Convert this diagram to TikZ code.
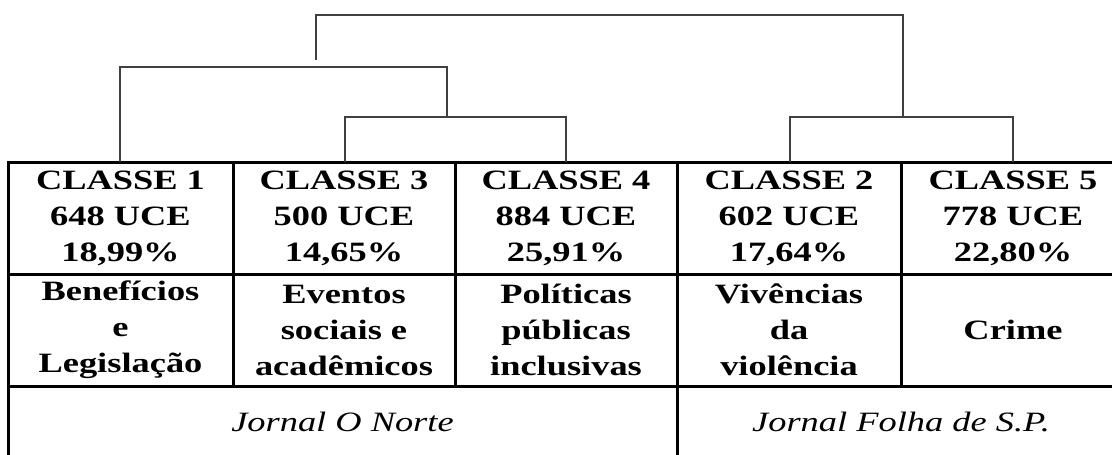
\documentclass[tikz,border=0pt]{standalone}
\usepackage{fontspec}
\setmainfont[FakeStretch=1.3]{Liberation Serif}
\usepackage{tikz}
\tikzset{cls/.style={align=center,font=\bfseries\fontsize{28}{36}\selectfont,inner sep=0pt}}
\tikzset{jrn/.style={font=\itshape\fontsize{28}{36}\selectfont,inner sep=0pt}}
\tikzset{grid/.style={line width=3pt},den/.style={line width=1.2pt,black!75}}

\begin{document}
\begin{tikzpicture}[x=1pt,y=-1pt]
    \useasboundingbox (0,0) rectangle (1112,455);
    \clip (0,0) rectangle (1112,455);

    \node[cls] (c1) at (120.5,218) {CLASSE 1\\648 UCE\\18,99\%};
    \node[cls] (c3) at (344,218) {CLASSE 3\\500 UCE\\14,65\%};
    \node[cls] (c4) at (566,218) {CLASSE 4\\884 UCE\\25,91\%};
    \node[cls] (c2) at (789,218) {CLASSE 2\\602 UCE\\17,64\%};
    \node[cls] (c5) at (1013,218) {CLASSE 5\\778 UCE\\22,80\%};
    \node[cls] (t1) at (120.5,330) {Benefícios\\e\\Legislação};
    \node[cls] (t3) at (344,330) {Eventos\\sociais e\\acadêmicos};
    \node[cls] (t4) at (566,330) {Políticas\\públicas\\inclusivas};
    \node[cls] (t2) at (789,330) {Vivências\\da\\violência};
    \node[cls] (t5) at (1013,330) {Crime};
    \node[jrn] (jn) at (342.5,422) {Jornal O Norte};
    \node[jrn] (jf) at (901,422) {Jornal Folha de S.P.};

    % table
    \draw [grid] (8,470) -- (8,162) -- (1130,162);
    \draw [grid] (8,274) -- (1130,274);
    \draw [grid] (8,386) -- (1130,386);
    \foreach \x in {233,455,677,901}
        \draw [grid] (\x,162) -- (\x,386);
    \draw [grid] (677,386) -- (677,470);

    % dendrogram
    \coordinate (p1) at (120,162);
    \coordinate (p3) at (345,162);
    \coordinate (p4) at (566,162);
    \coordinate (p2) at (790,162);
    \coordinate (p5) at (1013,162);
    \coordinate (j34) at (447,117);
    \coordinate (j25) at (903,117);
    \coordinate (m134) at (316,67);
    \coordinate (r134) at (316,60);
    \coordinate (top) at (600,15);

    \draw [den] (p3) |- (j34) -| (p4);
    \draw [den] (p2) |- (j25) -| (p5);
    \draw [den] (p1) |- (m134) -| (j34);
    \draw [den] (r134) |- (top) -| (j25);
\end{tikzpicture}
\end{document}
